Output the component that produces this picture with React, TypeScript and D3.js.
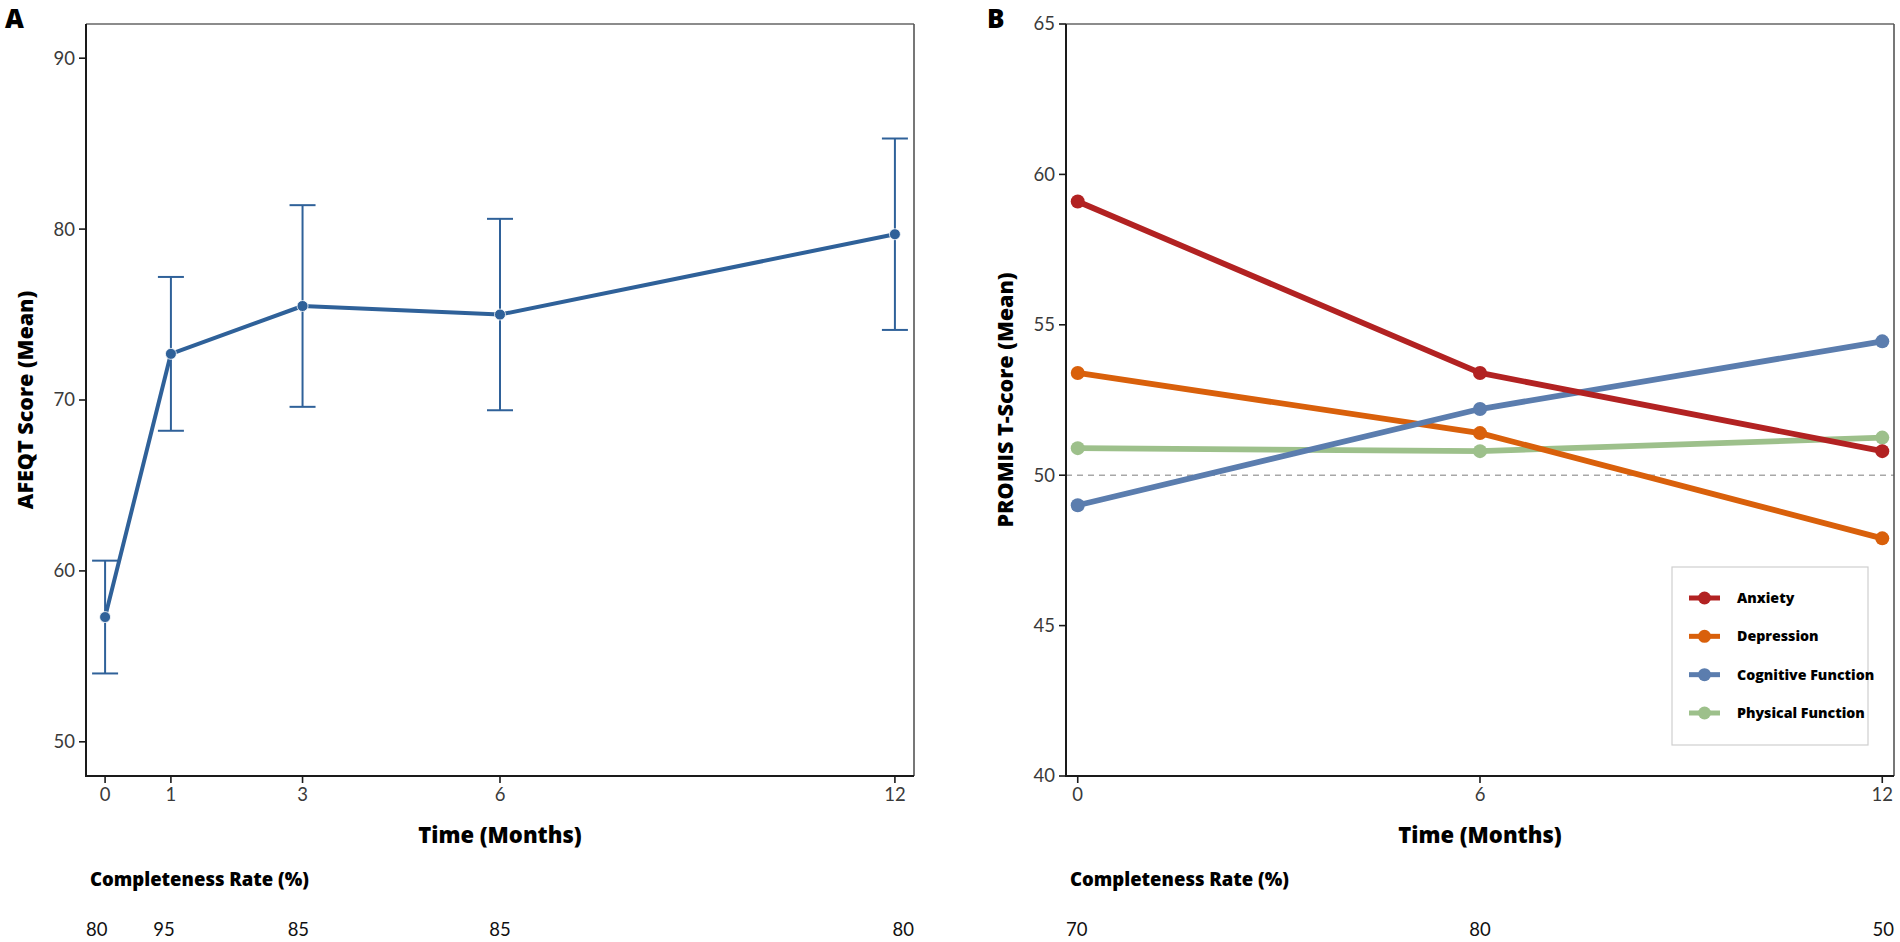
import React, { useEffect, useRef } from 'react';
import * as d3 from 'd3';

// Panel A data
const monthsA = [0, 1, 3, 6, 12];
const afeqtMean = [57.3, 72.7, 75.5, 75.0, 79.7];
const afeqtUpper = [60.6, 77.2, 81.4, 80.6, 85.3];
const afeqtLower = [54.0, 68.2, 69.6, 69.4, 74.1];
const completenessA = [80, 95, 85, 85, 80];
const yTicksA = [50, 60, 70, 80, 90];

// Panel B data
const monthsB = [0, 6, 12];
const seriesNames = ['Anxiety', 'Depression', 'Cognitive Function', 'Physical Function'];
const anxiety = [59.1, 53.4, 50.8];
const depression = [53.4, 51.4, 47.9];
const cognitive = [49.0, 52.2, 54.45];
const physical = [50.9, 50.8, 51.25];
const seriesColors = ['#B22222', '#D9600B', '#5B7DAE', '#9DC08B'];
const completenessB = [70, 80, 50];
const yTicksB = [40, 45, 50, 55, 60, 65];
const referenceLine = 50;

const FONT = 'Lato, "Open Sans", sans-serif';
const BOLD = '"Open Sans", Lato, sans-serif';

export default function App() {
  const ref = useRef<SVGSVGElement>(null);

  useEffect(() => {
    const svg = d3.select(ref.current);
    svg.selectAll('*').remove();

    const top = 24, bottom = 776;

    function frame(g: any, left: number, right: number, x: any, y: any, xTicks: number[], yTicks: number[]) {
      g.append('line').attr('x1', left).attr('x2', right).attr('y1', top).attr('y2', top)
        .attr('stroke', '#666').attr('stroke-width', 1.6);
      g.append('line').attr('x1', right).attr('x2', right).attr('y1', top).attr('y2', bottom)
        .attr('stroke', '#555').attr('stroke-width', 1.6);
      g.append('line').attr('x1', left).attr('x2', left).attr('y1', top).attr('y2', bottom + 1)
        .attr('stroke', '#1a1a1a').attr('stroke-width', 2);
      g.append('line').attr('x1', left - 1).attr('x2', right).attr('y1', bottom).attr('y2', bottom)
        .attr('stroke', '#1a1a1a').attr('stroke-width', 2);
      yTicks.forEach((t) => {
        g.append('line').attr('x1', left - 7).attr('x2', left).attr('y1', y(t)).attr('y2', y(t))
          .attr('stroke', '#1a1a1a').attr('stroke-width', 1.6);
        g.append('text').attr('x', left - 11).attr('y', y(t)).attr('dy', '0.35em')
          .attr('text-anchor', 'end').attr('font-family', FONT).attr('font-size', 18.5)
          .attr('fill', '#3a3a3a').text(t);
      });
      xTicks.forEach((t) => {
        g.append('line').attr('x1', x(t)).attr('x2', x(t)).attr('y1', bottom).attr('y2', bottom + 7)
          .attr('stroke', '#1a1a1a').attr('stroke-width', 1.6);
        g.append('text').attr('x', x(t)).attr('y', bottom + 19).attr('dy', '0.35em')
          .attr('text-anchor', 'middle').attr('font-family', FONT).attr('font-size', 18.5)
          .attr('fill', '#3a3a3a').text(t);
      });
    }

    function titles(g: any, left: number, right: number, letter: string, letterX: number, yTitle: string, times: number[], comp: number[]) {
      g.append('text').attr('x', letterX).attr('y', 28).attr('font-family', BOLD)
        .attr('font-weight', 800).attr('font-size', 26).attr('fill', '#000').text(letter);
      g.append('text').attr('transform', `translate(${left - 61},${(top + bottom) / 2}) rotate(-90)`)
        .attr('text-anchor', 'middle').attr('dy', '0.35em').attr('font-family', BOLD)
        .attr('font-weight', 800).attr('font-size', 21.5).attr('fill', '#000').text(yTitle);
      g.append('text').attr('x', (left + right) / 2).attr('y', 835).attr('dy', '0.35em')
        .attr('text-anchor', 'middle').attr('font-family', BOLD)
        .attr('font-weight', 800).attr('font-size', 22).attr('fill', '#000').text('Time (Months)');
      g.append('text').attr('x', left + 4).attr('y', 880).attr('dy', '0.35em')
        .attr('font-family', BOLD).attr('font-weight', 800).attr('font-size', 18.5)
        .attr('fill', '#000').text('Completeness Rate (%)');
      const tmax = d3.max(times) as number;
      const cx = d3.scaleLinear().domain([0, tmax]).range([left, right]);
      times.forEach((t, i) => {
        const txt = g.append('text').attr('x', cx(t)).attr('y', 930).attr('dy', '0.35em')
          .attr('font-family', FONT).attr('font-size', 18.5).attr('fill', '#111').text(comp[i]);
        const node = txt.node() as SVGTextElement;
        const w = node.getComputedTextLength();
        txt.attr('x', cx(t) - (t / tmax) * w);
      });
    }

    // ---------- Panel A ----------
    const gA = svg.append('g');
    const leftA = 86, rightA = 914;
    const xA = d3.scaleLinear().domain([-0.29, 12.29]).range([leftA, rightA]);
    const yA = d3.scaleLinear().domain([48, 92]).range([bottom, top]);
    frame(gA, leftA, rightA, xA, yA, monthsA, yTicksA);
    const blue = '#2F6199';
    monthsA.forEach((m, i) => {
      gA.append('line').attr('x1', xA(m)).attr('x2', xA(m)).attr('y1', yA(afeqtLower[i])).attr('y2', yA(afeqtUpper[i]))
        .attr('stroke', blue).attr('stroke-width', 2);
      [afeqtLower[i], afeqtUpper[i]].forEach((v) => {
        gA.append('line').attr('x1', xA(m) - 13).attr('x2', xA(m) + 13).attr('y1', yA(v)).attr('y2', yA(v))
          .attr('stroke', blue).attr('stroke-width', 2);
      });
    });
    const lineA = d3.line<number>().x((_, i) => xA(monthsA[i])).y((d) => yA(d));
    gA.append('path').attr('d', lineA(afeqtMean)).attr('fill', 'none').attr('stroke', blue)
      .attr('stroke-width', 4).attr('stroke-linejoin', 'round');
    monthsA.forEach((m, i) => {
      gA.append('circle').attr('cx', xA(m)).attr('cy', yA(afeqtMean[i])).attr('r', 5.5)
        .attr('fill', blue).attr('stroke', '#fff').attr('stroke-width', 0.8);
    });
    titles(gA, leftA, rightA, 'A', 5, 'AFEQT Score (Mean)', monthsA, completenessA);

    // ---------- Panel B ----------
    const gB = svg.append('g');
    const leftB = 1066, rightB = 1894;
    const xB = d3.scaleLinear().domain([-0.175, 12.175]).range([leftB, rightB]);
    const yB = d3.scaleLinear().domain([40, 65]).range([bottom, top]);
    gB.append('line').attr('x1', leftB).attr('x2', rightB).attr('y1', yB(referenceLine)).attr('y2', yB(referenceLine))
      .attr('stroke', '#a8a8a8').attr('stroke-width', 1.5).attr('stroke-dasharray', '6,5');
    frame(gB, leftB, rightB, xB, yB, monthsB, yTicksB);
    const allSeries = [anxiety, depression, cognitive, physical];
    const lineB = d3.line<number>().x((_, i) => xB(monthsB[i])).y((d) => yB(d));
    const drawOrder = [3, 1, 2, 0];
    drawOrder.forEach((si) => {
      const s = allSeries[si];
      gB.append('path').attr('d', lineB(s)).attr('fill', 'none').attr('stroke', seriesColors[si])
        .attr('stroke-width', 5.8).attr('stroke-linejoin', 'round');
      monthsB.forEach((m, i) => {
        gB.append('circle').attr('cx', xB(m)).attr('cy', yB(s[i])).attr('r', 7).attr('fill', seriesColors[si]);
      });
    });
    titles(gB, leftB, rightB, 'B', 987, 'PROMIS T-Score (Mean)', monthsB, completenessB);

    // legend
    const lg = gB.append('g');
    lg.append('rect').attr('x', 1672).attr('y', 567).attr('width', 196).attr('height', 178)
      .attr('fill', '#fff').attr('stroke', '#cfcfcf').attr('stroke-width', 1.2);
    const legendY = d3.scalePoint<string>().domain(seriesNames).range([598, 713]);
    seriesNames.forEach((name, i) => {
      const yy = legendY(name) as number;
      lg.append('line').attr('x1', 1689).attr('x2', 1720).attr('y1', yy).attr('y2', yy)
        .attr('stroke', seriesColors[i]).attr('stroke-width', 5);
      lg.append('circle').attr('cx', 1704.5).attr('cy', yy).attr('r', 6.5).attr('fill', seriesColors[i]);
      lg.append('text').attr('x', 1737).attr('y', yy).attr('dy', '0.35em').attr('font-family', BOLD)
        .attr('font-weight', 800).attr('font-size', 14.2).attr('fill', '#000').text(name);
    });
  }, []);

  return (
    <svg ref={ref} width={1900} height={942}
      style={{ position: 'absolute', left: 0, top: 0, background: '#fff' }} />
  );
}
